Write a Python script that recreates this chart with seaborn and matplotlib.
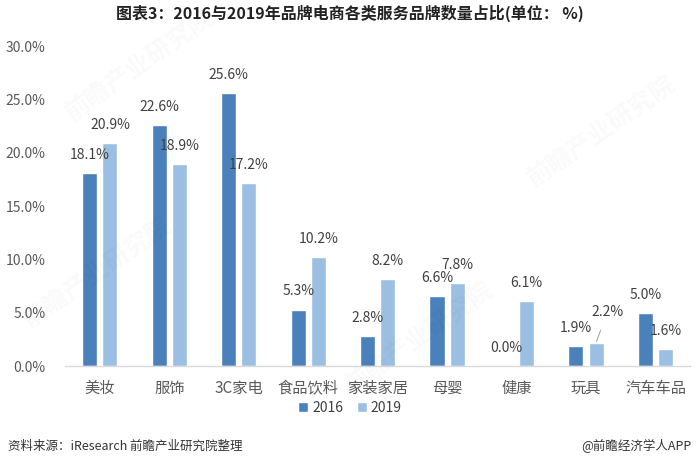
import matplotlib
matplotlib.use("Agg")
import matplotlib.pyplot as plt
import seaborn as sns
import pandas as pd
from matplotlib.ticker import FuncFormatter
from matplotlib.patches import Patch

categories = ["美妆", "服饰", "3C家电", "食品饮料", "家装家居", "母婴", "健康", "玩具", "汽车车品"]
years = ["2016", "2019"]
values_2016 = [18.1, 22.6, 25.6, 5.3, 2.8, 6.6, 0.0, 1.9, 5.0]
values_2019 = [20.9, 18.9, 17.2, 10.2, 8.2, 7.8, 6.1, 2.2, 1.6]
yticks = [0, 5, 10, 15, 20, 25, 30]

df = pd.DataFrame({
    "category": categories * 2,
    "year": [years[0]] * len(categories) + [years[1]] * len(categories),
    "value": values_2016 + values_2019,
})

sns.set_theme(style="white")
plt.rcParams["font.family"] = ["Noto Sans CJK SC", "DejaVu Sans"]

fig = plt.figure(figsize=(7, 4.7), dpi=100)
ax = fig.add_axes([0.093, 0.221, 0.893, 0.681])

palette = {"2016": "#4a81bb", "2019": "#9bbfe3"}
sns.barplot(data=df, x="category", y="value", hue="year", palette=palette,
            width=0.58, gap=0.25, ax=ax, saturation=1, legend=False)

ax.set_ylim(0, 30)
ax.set_yticks(yticks)
ax.yaxis.set_major_formatter(FuncFormatter(lambda v, p: f"{v:.1f}%"))
ax.set_xlabel("")
ax.set_ylabel("")
ax.tick_params(axis="y", labelsize=10, colors="#595959", length=0, pad=14)
ax.tick_params(axis="x", labelsize=11, colors="#595959", length=0, pad=10)
for s in ["top", "right", "left"]:
    ax.spines[s].set_visible(False)
ax.spines["bottom"].set_color("#d9d9d9")
ax.spines["bottom"].set_linewidth(1)
ax.set_xlim(-0.5, len(categories) - 0.5)

special = "玩具"
for ci, cont in enumerate(ax.containers):
    labels = []
    for cat, v in zip(categories, cont.datavalues):
        if ci == 1 and cat == special:
            labels.append("")
        else:
            labels.append(f"{v:.1f}%")
    ax.bar_label(cont, labels=labels, padding=8, fontsize=10, color="#404040")

# offset label with leader line (玩具 2019)
k = categories.index(special)
bar = ax.containers[1][k]
bx = bar.get_x() + bar.get_width() / 2
by = bar.get_height()
ax.annotate(f"{values_2019[k]:.1f}%", xy=(bx, by), xytext=(8, 22),
            textcoords="offset points", ha="center", va="center",
            fontsize=10, color="#404040",
            arrowprops=dict(arrowstyle="-", color="#a6a6a6", lw=0.8,
                            shrinkA=6, shrinkB=1))

handles = [Patch(facecolor=palette[y], label=y) for y in years]
fig.legend(handles=handles, loc="center", bbox_to_anchor=(0.5, 0.132), ncol=2,
           frameon=False, fontsize=10, handlelength=0.7, handleheight=0.7,
           handletextpad=0.3, columnspacing=1.0, labelcolor="#404040")

fig.text(0.5, 0.972, "图表3：2016与2019年品牌电商各类服务品牌数量占比(单位： %)",
         ha="center", va="center", fontsize=11.5, fontweight="bold", color="#222222")
fig.text(0.012, 0.05, "资料来源：iResearch 前瞻产业研究院整理", ha="left", va="center",
         fontsize=9, color="#333333")
fig.text(0.988, 0.05, "@前瞻经济学人APP", ha="right", va="center",
         fontsize=9, color="#333333")

for (x, y) in [(0.2, 0.86), (0.86, 0.72), (0.14, 0.42), (0.6, 0.28)]:
    fig.text(x, y, "前瞻产业研究院", rotation=35, fontsize=18, color="#000000",
             alpha=0.025, ha="center", va="center", fontweight="bold")

fig.savefig("out.png", dpi=100)
